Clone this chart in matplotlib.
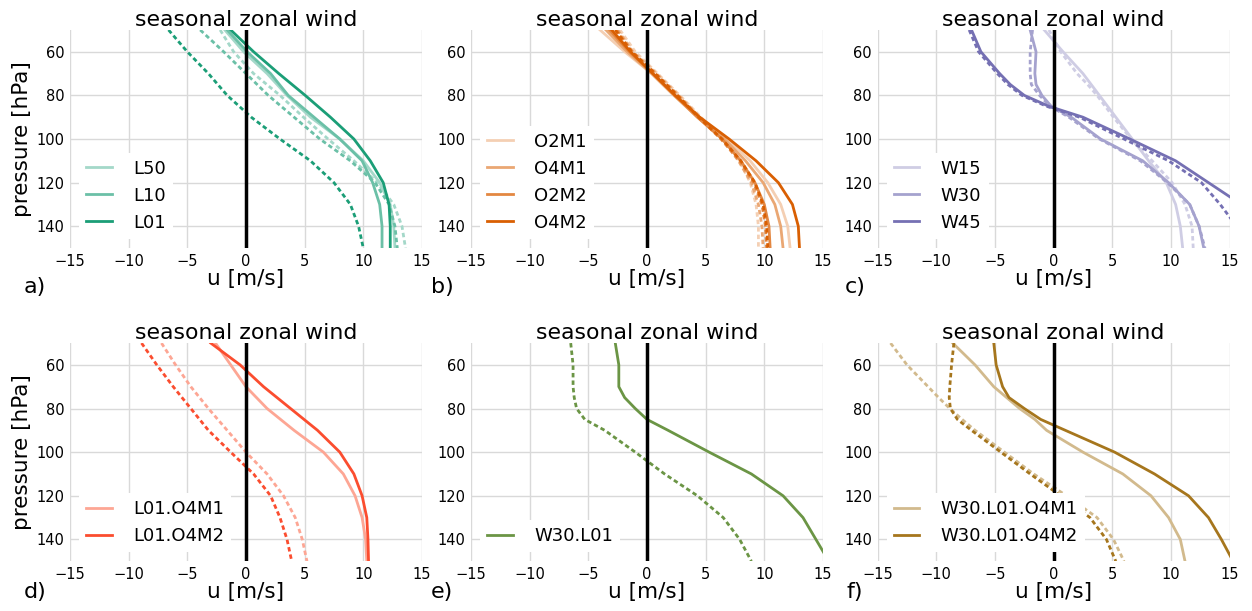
import matplotlib
matplotlib.use("Agg")
import matplotlib.pyplot as plt

# pressure levels [hPa]
p_ab = [50, 60, 70, 80, 90, 100, 110, 120, 130, 140, 150]
p_cef = [50, 60, 70, 75, 80, 85, 90, 100, 110, 120, 130, 140, 150]

# a) L experiments (solid / dashed)
a_names = ["L50", "L10", "L01"]
a_solid = [
    [-1.8, -0.2, 1.8, 3.5, 5.5, 8.0, 10.0, 11.4, 12.3, 12.6, 12.7],
    [-1.6, 0.1, 2.1, 3.6, 5.8, 8.0, 9.9, 10.8, 11.4, 11.6, 11.6],
    [-1.3, 0.65, 2.8, 5.05, 7.2, 9.2, 10.6, 11.7, 12.2, 12.3, 12.3],
]
a_dash = [
    [-2.2, -1.05, 0.65, 2.9, 4.9, 7.0, 9.2, 11.2, 12.6, 13.3, 13.6],
    [-3.9, -1.9, 0.0, 1.9, 4.1, 6.3, 8.9, 11.0, 12.2, 12.7, 12.9],
    [-6.6, -5.0, -3.2, -1.6, 0.45, 2.9, 5.5, 7.5, 8.9, 9.6, 10.0],
]

# b) O/M experiments
b_names = ["O2M1", "O4M1", "O2M2", "O4M2"]
b_solid = [
    [-4.0, -1.9, 0.4, 2.3, 4.4, 6.8, 8.8, 10.3, 11.4, 12.0, 12.2],
    [-3.5, -1.7, 0.4, 2.3, 4.3, 6.6, 8.4, 9.9, 10.9, 11.4, 11.6],
    [-3.2, -1.5, 0.5, 2.4, 4.3, 6.4, 8.0, 9.2, 10.0, 10.4, 10.5],
    [-3.0, -1.4, 0.5, 2.4, 4.5, 7.0, 9.3, 11.2, 12.4, 12.9, 13.0],
]
b_dash = [
    [-2.3, -1.0, 0.9, 2.8, 4.6, 6.5, 7.9, 8.8, 9.3, 9.5, 9.5],
    [-2.5, -1.2, 0.8, 2.7, 4.5, 6.4, 7.8, 8.9, 9.5, 9.8, 9.9],
    [-2.6, -1.3, 0.7, 2.6, 4.4, 6.3, 7.9, 9.1, 9.8, 10.1, 10.2],
    [-2.7, -1.3, 0.7, 2.6, 4.4, 6.4, 8.0, 9.2, 9.9, 10.2, 10.3],
]

# c) W experiments
c_names = ["W15", "W30", "W45"]
c_solid = [
    [-0.8, 0.8, 2.5, 3.2, 3.9, 4.6, 5.3, 6.7, 8.1, 9.6, 10.4, 10.8, 11.0],
    [-2.0, -1.5, -1.6, -1.5, -1.0, -0.2, 1.5, 4.0, 7.6, 9.8, 11.6, 12.4, 12.8],
    [-7.0, -6.2, -4.6, -3.7, -2.5, -0.4, 2.5, 6.5, 10.4, 13.2, 16.0, 18.0, 19.0],
]
c_dash = [
    [-0.4, 0.6, 2.0, 2.9, 3.7, 4.4, 5.1, 6.6, 8.4, 10.1, 11.2, 11.8, 11.9],
    [-1.8, -2.0, -2.0, -1.9, -1.2, -0.3, 1.3, 3.9, 7.4, 9.7, 11.6, 12.4, 12.9],
    [-7.2, -6.4, -4.8, -3.9, -2.7, -0.6, 2.2, 6.0, 9.8, 12.6, 14.2, 15.6, 16.5],
]

# d) L01 + O4
d_names = ["L01.O4M1", "L01.O4M2"]
d_solid = [
    [-2.6, -1.3, 0.0, 1.8, 4.1, 6.6, 8.3, 9.3, 9.9, 10.2, 10.3],
    [-3.0, -0.5, 1.5, 3.8, 6.1, 8.0, 9.2, 9.9, 10.3, 10.4, 10.45],
]
d_dash = [
    [-7.2, -6.0, -4.7, -3.2, -1.6, 0.0, 1.8, 3.2, 4.2, 4.8, 5.2],
    [-8.9, -7.6, -6.2, -4.7, -3.2, -1.3, 0.65, 2.1, 2.9, 3.5, 3.9],
]

# e) W30 + L01
e_names = ["W30.L01"]
e_solid = [
    [-2.7, -2.4, -2.4, -1.9, -1.0, 0.0, 1.8, 5.3, 8.9, 11.6, 13.3, 14.4, 15.5],
]
e_dash = [
    [-6.5, -6.3, -6.3, -6.2, -6.0, -5.3, -3.6, -1.0, 1.5, 4.3, 6.5, 7.9, 8.9],
]

# f) W30 + L01 + O4
f_names = ["W30.L01.O4M1", "W30.L01.O4M2"]
f_solid = [
    [-8.6, -6.7, -5.1, -4.0, -2.9, -1.6, -0.6, 2.5, 5.9, 8.3, 9.8, 10.8, 11.2],
    [-5.1, -4.9, -4.35, -3.8, -2.5, -1.1, 1.0, 5.2, 8.6, 11.5, 13.2, 14.3, 15.3],
]
f_dash = [
    [-13.9, -12.5, -10.7, -9.8, -8.85, -7.8, -6.7, -4.2, -1.7, 1.1, 3.7, 5.1, 6.0],
    [-8.5, -8.7, -8.85, -8.9, -8.8, -8.2, -7.0, -4.5, -2.0, 0.6, 3.1, 4.5, 5.3],
]

panels = [
    ("a)", p_ab, a_names, a_solid, a_dash, ["#a4d8c9", "#6bc0a7", "#1b9e77"]),
    ("b)", p_ab, b_names, b_solid, b_dash, ["#f4cfb3", "#eaa773", "#e38741", "#d95f02"]),
    ("c)", p_cef, c_names, c_solid, c_dash, ["#cfcde4", "#a5a2ce", "#7570b3"]),
    ("d)", p_ab, d_names, d_solid, d_dash, ["#fda694", "#fb4d2f"]),
    ("e)", p_cef, e_names, e_solid, e_dash, ["#6b9545"]),
    ("f)", p_cef, f_names, f_solid, f_dash, ["#d2ba8d", "#a6761d"]),
]

fig = plt.figure(figsize=(12.52, 6.11), dpi=100)

lefts = [0.0559, 0.3762, 0.7010]
bottoms = [0.594, 0.0815]
width = 0.2811
height = 0.357
label_x = [0.028, 0.353, 0.683]
label_y = [0.530, 0.031]

for i, (tag, pres, names, solid, dash, colors) in enumerate(panels):
    row, col = divmod(i, 3)
    ax = fig.add_axes([lefts[col], bottoms[row], width, height])
    for name, us, ud, c in zip(names, solid, dash, colors):
        ax.plot(us, pres, color=c, lw=2, label=name, zorder=2)
        ax.plot(ud, pres, color=c, lw=2, dashes=(1.6, 1.1), zorder=2)
    ax.axvline(0, color="black", lw=2.5, zorder=3)

    ax.set_xlim(-15, 15)
    ax.set_ylim(150, 50)
    ax.set_xticks([-15, -10, -5, 0, 5, 10, 15])
    ax.set_yticks([60, 80, 100, 120, 140])
    ax.grid(True, color="#d9d9d9", lw=1)
    ax.set_axisbelow(True)
    for s in ax.spines.values():
        s.set_visible(False)
    ax.tick_params(length=0, labelsize=10.5, pad=4)

    ax.set_title("seasonal zonal wind", fontsize=15.8, pad=3)
    ax.set_xlabel("u [m/s]", fontsize=15.5, labelpad=0.5)
    if col == 0:
        ax.set_ylabel("pressure [hPa]", fontsize=15.5, labelpad=3)

    leg = ax.legend(loc="lower left", fontsize=13, frameon=True,
                    handlelength=1.4, handletextpad=1.2)
    leg.get_frame().set_facecolor("white")
    leg.get_frame().set_edgecolor("none")
    leg.get_frame().set_alpha(1)

    fig.text(label_x[col], label_y[row], tag, fontsize=16, ha="center", va="center")

fig.savefig("out.png", dpi=100)
